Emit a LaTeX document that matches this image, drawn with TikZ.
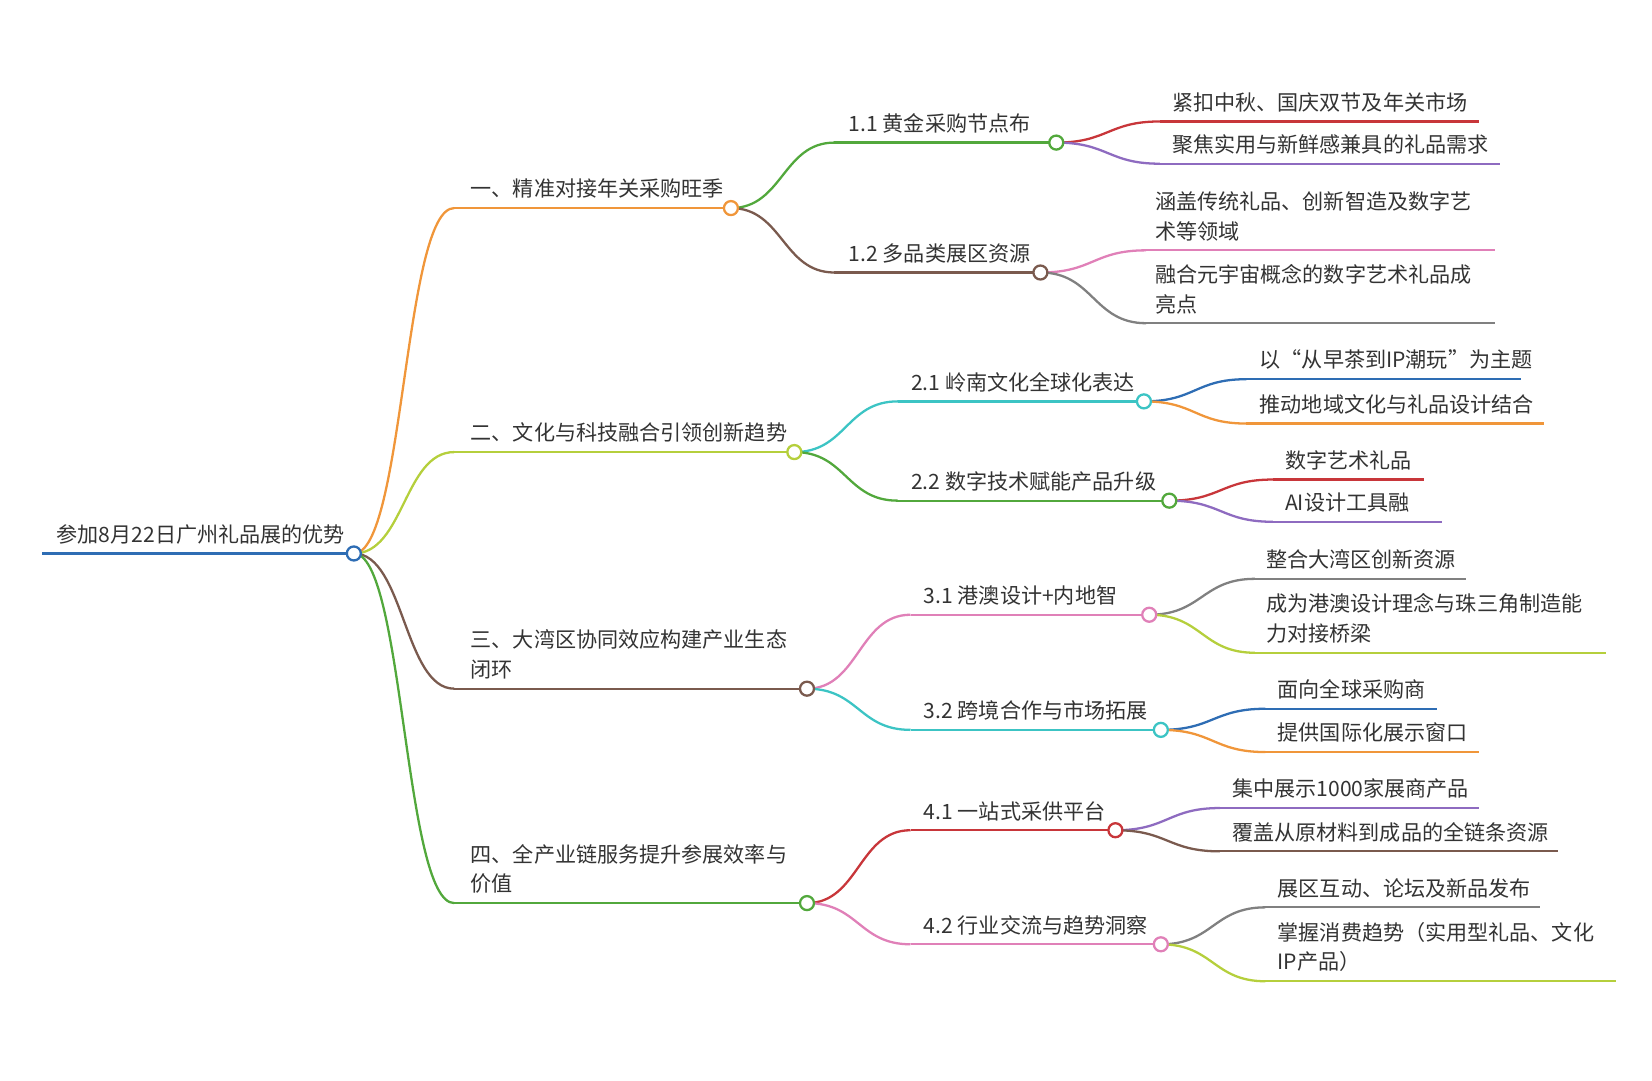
\documentclass[tikz,border=0pt]{standalone}
\usepackage{fontspec}
\setmainfont{Noto Sans CJK SC}
\usetikzlibrary{calc}
\definecolor{cOr}{HTML}{F0963A}
\definecolor{cYg}{HTML}{B5CF3C}
\definecolor{cBr}{HTML}{7A5A4E}
\definecolor{cGr}{HTML}{52A83C}
\definecolor{cBl}{HTML}{2E6DB4}
\definecolor{cRd}{HTML}{C8363A}
\definecolor{cPu}{HTML}{8E6BC0}
\definecolor{cPk}{HTML}{E080B8}
\definecolor{cGy}{HTML}{808080}
\definecolor{cCy}{HTML}{3CC4C4}
\newcommand\mmc[3]{% from, to, color
  \path ($(#1)!.5!(#2)$) coordinate (mmm);
  \draw[ln,#3] (#1) .. controls (#1 -| mmm) and (#2 -| mmm) .. (#2);}
\newcommand\mmleaf[8]{% name, parent, color, xs, y, xe, text x, text
  \coordinate (#1s) at (#4,#5); \coordinate (#1e) at (#6,#5);
  \mmc{#2}{#1s}{#3}
  \draw[ln,#3] (#1s) -- (#1e);
  \node[txt,anchor=south west] (#1t) at (#7,#5) {#8};}
\begin{document}
\begin{tikzpicture}[x=0.01056cm,y=-0.01056cm,
  ln/.style={line width=0.65pt},
  txt/.style={font=\fontsize{6pt}{8.4pt}\selectfont,text=black!80,align=left,inner sep=1.5pt,yshift=1pt},
  dot/.style={circle,draw,fill=white,line width=0.65pt,minimum size=0.14cm,inner sep=0pt}]
\useasboundingbox (0,0) rectangle (1564,1023);
% centers
\coordinate (R) at (335,524);
\coordinate (A) at (692,197);
\coordinate (B) at (752,428);
\coordinate (C) at (764,652);
\coordinate (D) at (764,855);
\coordinate (A1) at (1000,135);
\coordinate (A2) at (985,258);
\coordinate (B1) at (1083,380);
\coordinate (B2) at (1107,474);
\coordinate (C1) at (1088,582);
\coordinate (C2) at (1099,691);
\coordinate (D1) at (1056,786);
\coordinate (D2) at (1099,894);
% root
\coordinate (R0) at (40,524);
\draw[ln,cBl] (R0) -- (R);
\node[txt,anchor=south west] (Rt) at (48,524) {参加8月22日广州礼品展的优势};
% level 1
\coordinate (As) at (430,197); \mmc{R}{As}{cOr} \draw[ln,cOr] (As) -- (A);
\node[txt,anchor=south west] (At) at (440,197) {一、精准对接年关采购旺季};
\coordinate (Bs) at (430,428); \mmc{R}{Bs}{cYg} \draw[ln,cYg] (Bs) -- (B);
\node[txt,anchor=south west] (Bt) at (440,428) {二、文化与科技融合引领创新趋势};
\coordinate (Cs) at (430,652); \mmc{R}{Cs}{cBr} \draw[ln,cBr] (Cs) -- (C);
\node[txt,anchor=south west] (Ct) at (440,652) {三、大湾区协同效应构建产业生态\\闭环};
\coordinate (Ds) at (430,855); \mmc{R}{Ds}{cGr} \draw[ln,cGr] (Ds) -- (D);
\node[txt,anchor=south west] (Dt) at (440,855) {四、全产业链服务提升参展效率与\\价值};
% level 2
\coordinate (A1s) at (790,135); \mmc{A}{A1s}{cGr} \draw[ln,cGr] (A1s) -- (A1);
\node[txt,anchor=south west] (A1t) at (798,135) {1.1 黄金采购节点布};
\coordinate (A2s) at (790,258); \mmc{A}{A2s}{cBr} \draw[ln,cBr] (A2s) -- (A2);
\node[txt,anchor=south west] (A2t) at (798,258) {1.2 多品类展区资源};
\coordinate (B1s) at (850,380); \mmc{B}{B1s}{cCy} \draw[ln,cCy] (B1s) -- (B1);
\node[txt,anchor=south west] (B1t) at (857,380) {2.1 岭南文化全球化表达};
\coordinate (B2s) at (850,474); \mmc{B}{B2s}{cGr} \draw[ln,cGr] (B2s) -- (B2);
\node[txt,anchor=south west] (B2t) at (857,474) {2.2 数字技术赋能产品升级};
\coordinate (C1s) at (862,582); \mmc{C}{C1s}{cPk} \draw[ln,cPk] (C1s) -- (C1);
\node[txt,anchor=south west] (C1t) at (869,582) {3.1 港澳设计+内地智};
\coordinate (C2s) at (862,691); \mmc{C}{C2s}{cCy} \draw[ln,cCy] (C2s) -- (C2);
\node[txt,anchor=south west] (C2t) at (869,691) {3.2 跨境合作与市场拓展};
\coordinate (D1s) at (862,786); \mmc{D}{D1s}{cRd} \draw[ln,cRd] (D1s) -- (D1);
\node[txt,anchor=south west] (D1t) at (869,786) {4.1 一站式采供平台};
\coordinate (D2s) at (862,894); \mmc{D}{D2s}{cPk} \draw[ln,cPk] (D2s) -- (D2);
\node[txt,anchor=south west] (D2t) at (869,894) {4.2 行业交流与趋势洞察};
% leaves
\mmleaf{a1}{A1}{cRd}{1098}{115}{1400}{1104}{紧扣中秋、国庆双节及年关市场}
\mmleaf{a2}{A1}{cPu}{1098}{155}{1420}{1104}{聚焦实用与新鲜感兼具的礼品需求}
\mmleaf{a3}{A2}{cPk}{1085}{237}{1415}{1088}{涵盖传统礼品、创新智造及数字艺\\术等领域}
\mmleaf{a4}{A2}{cGy}{1085}{306}{1415}{1088}{融合元宇宙概念的数字艺术礼品成\\亮点}
\mmleaf{b1}{B1}{cBl}{1180}{359}{1440}{1187}{以“从早茶到IP潮玩”为主题}
\mmleaf{b2}{B1}{cOr}{1180}{401}{1462}{1187}{推动地域文化与礼品设计结合}
\mmleaf{b3}{B2}{cRd}{1205}{454}{1348}{1211}{数字艺术礼品}
\mmleaf{b4}{B2}{cPu}{1205}{494}{1365}{1211}{AI设计工具融}
\mmleaf{c1}{C1}{cGy}{1188}{548}{1388}{1193}{整合大湾区创新资源}
\mmleaf{c2}{C1}{cYg}{1188}{618}{1520}{1193}{成为港澳设计理念与珠三角制造能\\力对接桥梁}
\mmleaf{c3}{C2}{cBl}{1198}{671}{1360}{1204}{面向全球采购商}
\mmleaf{c4}{C2}{cOr}{1198}{712}{1400}{1204}{提供国际化展示窗口}
\mmleaf{d1}{D1}{cPu}{1155}{765}{1400}{1161}{集中展示1000家展商产品}
\mmleaf{d2}{D1}{cBr}{1155}{806}{1475}{1161}{覆盖从原材料到成品的全链条资源}
\mmleaf{d3}{D2}{cGy}{1198}{859}{1458}{1204}{展区互动、论坛及新品发布}
\mmleaf{d4}{D2}{cYg}{1198}{929}{1530}{1204}{掌握消费趋势（实用型礼品、文化\\IP产品）}
% dots
\node[dot,draw=cBl] (Rd) at (R) {};
\node[dot,draw=cOr] (Ad) at (A) {};
\node[dot,draw=cYg] (Bd) at (B) {};
\node[dot,draw=cBr] (Cd) at (C) {};
\node[dot,draw=cGr] (Dd) at (D) {};
\node[dot,draw=cGr] (A1d) at (A1) {};
\node[dot,draw=cBr] (A2d) at (A2) {};
\node[dot,draw=cCy] (B1d) at (B1) {};
\node[dot,draw=cGr] (B2d) at (B2) {};
\node[dot,draw=cPk] (C1d) at (C1) {};
\node[dot,draw=cCy] (C2d) at (C2) {};
\node[dot,draw=cRd] (D1d) at (D1) {};
\node[dot,draw=cPk] (D2d) at (D2) {};
\end{tikzpicture}
\end{document}
